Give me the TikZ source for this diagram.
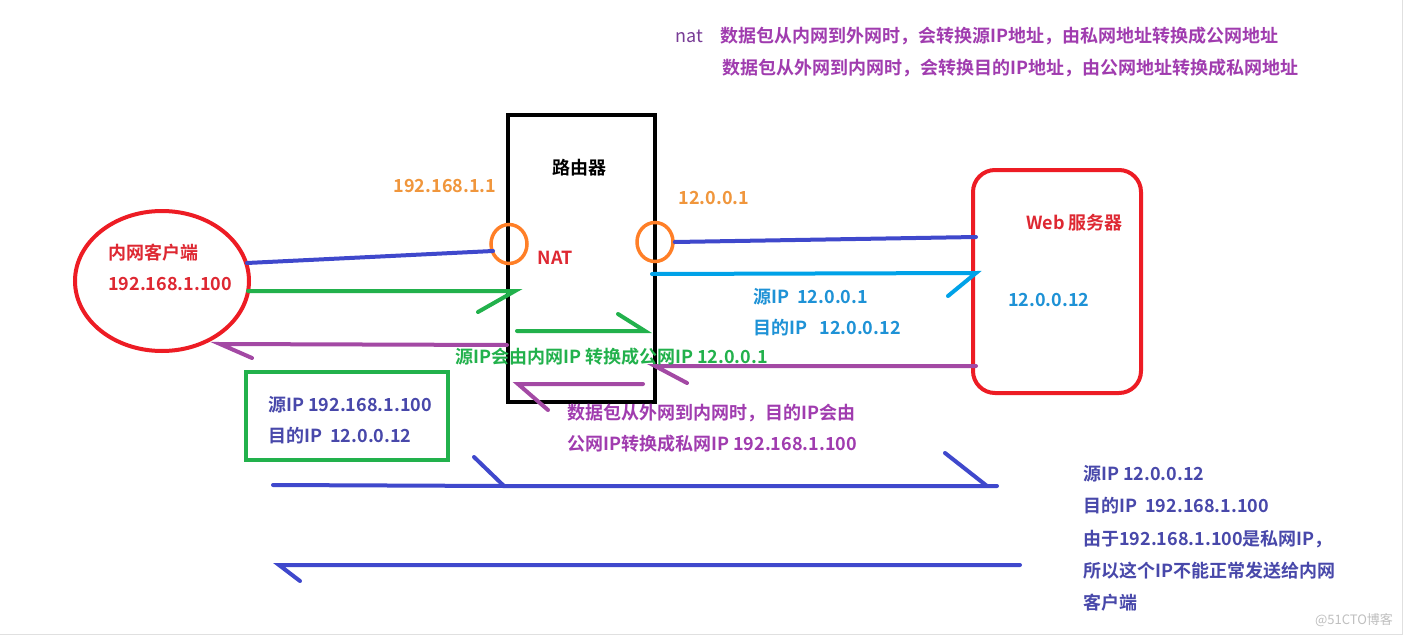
\documentclass[tikz,border=0pt]{standalone}
\usepackage{fontspec}
\setmainfont{Noto Sans CJK SC}[BoldFont={Noto Sans CJK SC Bold}]
\usetikzlibrary{shapes.geometric}
\definecolor{cblue}{RGB}{63,72,204}
\definecolor{cgreen}{RGB}{34,177,76}
\definecolor{ccyan}{RGB}{0,162,232}
\definecolor{ccyantext}{RGB}{30,146,214}
\definecolor{cpurple}{RGB}{163,73,164}
\definecolor{cpurpletext}{RGB}{160,60,175}
\definecolor{corange}{RGB}{255,127,39}
\definecolor{corangetext}{RGB}{240,150,60}
\definecolor{cred}{RGB}{237,28,36}
\definecolor{credtext}{RGB}{222,40,50}
\definecolor{cnavy}{RGB}{72,72,170}
\definecolor{cnat}{RGB}{120,60,150}
\tikzset{
  lbl/.style={inner sep=0pt, font=\fontsize{18}{21}\selectfont\bfseries},
  wlbl/.style={lbl, anchor=west},
  wire/.style={line width=4pt, line cap=round},
  port/.style={ellipse, draw=corange, line width=3.5pt, minimum width=36pt, minimum height=39pt, inner sep=0pt},
}
\begin{document}
\begin{tikzpicture}[x=1pt,y=-1pt]
\useasboundingbox (0,0) rectangle (1408,637);
\fill[white] (0,0) rectangle (1408,637);
\draw[black!12, line width=1pt] (0,634) -- (1402,634) -- (1402,0);

% router
\node (router) [draw=black, line width=4.5pt, minimum width=147pt, minimum height=287pt, inner sep=0pt] at (581.5,258.5) {};
\node (rlabel) [lbl] at (579,168) {路由器};
\node (nat) [lbl, text=credtext] at (555,258) {NAT};
\node (p1) [port] at (509,244) {};
\node (p2) [port] at (655,242) {};
\node (ip1) [lbl, text=corangetext] at (445,186) {192.168.1.1};
\node (ip2) [lbl, text=corangetext] at (714,198) {12.0.0.1};

% client
\node (client) [ellipse, draw=cred, line width=4pt, minimum width=174pt, minimum height=140pt, inner sep=0pt] at (162,281) {};
\node (cl1) [wlbl, text=credtext] at (108,253) {内网客户端};
\node (cl2) [wlbl, text=credtext] at (108,284) {192.168.1.100};

% web server
\node (web) [draw=cred, line width=4pt, rounded corners=22pt, minimum width=168pt, minimum height=223pt, inner sep=0pt] at (1057,281.5) {};
\node (wl1) [wlbl, text=credtext] at (1026,223) {Web 服务器};
\node (wl2) [wlbl, text=ccyantext] at (1008,300) {12.0.0.12};

% coordinates
\coordinate (b1s) at (247,263);
\coordinate (b1e) at (493,251);
\coordinate (b2e) at (976,237);
\coordinate (g1s) at (248,291);
\coordinate (g1e) at (515,291);
\coordinate (g1b) at (478,312);
\coordinate (g2s) at (517,331);
\coordinate (g2e) at (645,331);
\coordinate (g2b) at (618,314);
\coordinate (c1s) at (652,274);
\coordinate (c1e) at (976,273);
\coordinate (c1b) at (948,296);
\coordinate (u1s) at (976,366);
\coordinate (u1e) at (655,366);
\coordinate (u1b) at (687,383);
\coordinate (u2s) at (643,384);
\coordinate (u2e) at (518,384);
\coordinate (u2b) at (548,410);
\coordinate (u3s) at (507,345);
\coordinate (u3e) at (220,344);
\coordinate (u3b) at (252,358);
\coordinate (l1s) at (273,485);
\coordinate (l1m) at (504,486);
\coordinate (l1mb) at (474,457);
\coordinate (l1e) at (997,486);
\coordinate (l1eh) at (987,486);
\coordinate (l1eb) at (945,453);
\coordinate (l2s) at (1020,565);
\coordinate (l2e) at (279,565);
\coordinate (l2b) at (300,581);

% blue outgoing lines
\draw[wire, cblue] (b1s) -- (b1e);
\draw[wire, cblue] (p2.east) -- (b2e);
% green
\draw[wire, cgreen] (g1s) -- (g1e) -- (g1b);
\draw[wire, cgreen] (g2s) -- (g2e) -- (g2b);
% cyan
\draw[wire, ccyan] (c1s) -- (c1e) -- (c1b);
% purple
\draw[wire, cpurple] (u1s) -- (u1e) -- (u1b);
\draw[wire, cpurple] (u2s) -- (u2e) -- (u2b);
\draw[wire, cpurple] (u3s) -- (u3e) -- (u3b);
% lower blue
\draw[wire, cblue] (l1s) -- (l1m) -- (l1e);
\draw[wire, cblue] (l1m) -- (l1mb);
\draw[wire, cblue] (l1eh) -- (l1eb);
\draw[wire, cblue] (l2s) -- (l2e) -- (l2b);

% texts
\node (gt) [wlbl, text=cgreen] at (455,357) {源IP会由内网IP 转换成公网IP 12.0.0.1};
\node (pt1) [wlbl, text=cpurpletext] at (567,413) {数据包从外网到内网时，目的IP会由};
\node (pt2) [wlbl, text=cpurpletext] at (567,444) {公网IP转换成私网IP 192.168.1.100};
\node (ct1) [wlbl, text=ccyantext] at (753,297) {源IP\ \ 12.0.0.1};
\node (ct2) [wlbl, text=ccyantext] at (753,328) {目的IP\ \ \ 12.0.0.12};

% green box
\node (gbox) [draw=cgreen, line width=4pt, minimum width=202pt, minimum height=88pt, inner sep=0pt] at (347,416) {};
\node (gb1) [wlbl, text=cnavy] at (268,405) {源IP 192.168.1.100};
\node (gb2) [wlbl, text=cnavy] at (268,436) {目的IP\ \ 12.0.0.12};

% right text
\node (r1) [wlbl, text=cnavy] at (1083,474) {源IP 12.0.0.12};
\node (r2) [wlbl, text=cnavy] at (1083,506) {目的IP\ \ 192.168.1.100};
\node (r3) [wlbl, text=cnavy] at (1083,539) {由于192.168.1.100是私网IP，};
\node (r4) [wlbl, text=cnavy] at (1083,571) {所以这个IP不能正常发送给内网};
\node (r5) [wlbl, text=cnavy] at (1083,603) {客户端};

% top text
\node (nt) [wlbl, text=cnat, font=\fontsize{18}{21}\selectfont] at (675,36) {nat};
\node (t1) [wlbl, text=cpurpletext] at (720,36) {数据包从内网到外网时，会转换源IP地址，由私网地址转换成公网地址};
\node (t2) [wlbl, text=cpurpletext] at (722,68) {数据包从外网到内网时，会转换目的IP地址，由公网地址转换成私网地址};

% watermark
\node (wm) [inner sep=0pt, text=black!25, font=\fontsize{13}{15}\selectfont] at (1354,620) {@51CTO博客};
\end{tikzpicture}
\end{document}
